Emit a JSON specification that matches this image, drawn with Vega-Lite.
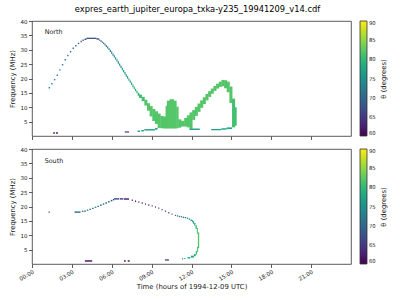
{
  "$schema": "https://vega.github.io/schema/vega-lite/v6.json",
  "padding": {"left": 7, "top": 5, "right": 0, "bottom": 0},
  "bounds": "flush",
  "spacing": 13,
  "title": {"text": "expres_earth_jupiter_europa_txka-y235_19941209_v14.cdf", "fontSize": 8.3, "fontWeight": "normal", "font": "DejaVu Sans", "color": "#000", "offset": 5, "anchor": "middle"},
  "datasets": {
    "north": [
      {"t":1.60,"t2":1.72,"f":0.8,"f2":1.3,"th":61},
      {"t":1.80,"t2":1.95,"f":0.8,"f2":1.3,"th":61},
      {"t":6.98,"t2":7.30,"f":1.2,"f2":1.6,"th":64},
      {"t":1.25,"t2":1.35,"f":16.55,"f2":17.05,"th":73},
      {"t":1.45,"t2":1.55,"f":17.95,"f2":18.45,"th":73},
      {"t":1.65,"t2":1.75,"f":19.35,"f2":19.85,"th":73},
      {"t":1.85,"t2":1.95,"f":20.85,"f2":21.35,"th":72},
      {"t":2.05,"t2":2.15,"f":22.75,"f2":23.25,"th":72},
      {"t":2.25,"t2":2.35,"f":24.55,"f2":25.05,"th":72},
      {"t":2.45,"t2":2.55,"f":26.25,"f2":26.75,"th":71},
      {"t":2.65,"t2":2.75,"f":27.75,"f2":28.25,"th":71},
      {"t":2.85,"t2":2.95,"f":29.05,"f2":29.55,"th":70},
      {"t":3.05,"t2":3.15,"f":30.25,"f2":30.75,"th":70},
      {"t":3.25,"t2":3.35,"f":31.15,"f2":31.65,"th":69},
      {"t":3.45,"t2":3.55,"f":31.95,"f2":32.45,"th":69},
      {"t":3.65,"t2":3.75,"f":32.65,"f2":33.15,"th":68},
      {"t":3.8,"t2":3.9,"f":33.05,"f2":33.55,"th":68},
      {"t":3.95,"t2":4.1,"f":33.4,"f2":33.9,"th":67},
      {"t":4.1,"t2":4.85,"f":33.75,"f2":34.2,"th":67},
      {"t":4.85,"t2":5.05,"f":33.5,"f2":34.0,"th":68},
      {"t":5.05,"t2":5.14,"f":33.1,"f2":33.6,"th":69},
      {"t":5.15,"t2":5.24,"f":32.8,"f2":33.3,"th":69},
      {"t":5.25,"t2":5.34,"f":32.4,"f2":32.9,"th":70},
      {"t":5.35,"t2":5.44,"f":32.0,"f2":32.5,"th":70},
      {"t":5.45,"t2":5.54,"f":31.5,"f2":32.1,"th":71},
      {"t":5.55,"t2":5.64,"f":31.0,"f2":31.6,"th":71},
      {"t":5.65,"t2":5.74,"f":30.45,"f2":31.1,"th":72},
      {"t":5.75,"t2":5.84,"f":29.9,"f2":30.55,"th":72},
      {"t":5.85,"t2":5.94,"f":29.25,"f2":30.0,"th":73},
      {"t":5.95,"t2":6.04,"f":28.6,"f2":29.35,"th":73},
      {"t":6.05,"t2":6.14,"f":27.95,"f2":28.7,"th":74},
      {"t":6.15,"t2":6.24,"f":27.3,"f2":28.05,"th":74},
      {"t":6.25,"t2":6.34,"f":26.6,"f2":27.4,"th":74},
      {"t":6.35,"t2":6.44,"f":25.9,"f2":26.7,"th":75},
      {"t":6.45,"t2":6.54,"f":25.15,"f2":26.0,"th":75},
      {"t":6.55,"t2":6.64,"f":24.4,"f2":25.25,"th":75},
      {"t":6.65,"t2":6.74,"f":23.65,"f2":24.5,"th":75},
      {"t":6.75,"t2":6.84,"f":22.9,"f2":23.75,"th":76},
      {"t":6.85,"t2":6.94,"f":22.15,"f2":23.0,"th":76},
      {"t":6.95,"t2":7.04,"f":21.4,"f2":22.25,"th":76},
      {"t":7.05,"t2":7.14,"f":20.65,"f2":21.5,"th":76},
      {"t":7.15,"t2":7.24,"f":19.9,"f2":20.75,"th":77},
      {"t":7.25,"t2":7.34,"f":19.2,"f2":20.0,"th":77},
      {"t":7.35,"t2":7.44,"f":18.5,"f2":19.3,"th":77},
      {"t":7.45,"t2":7.54,"f":17.75,"f2":18.6,"th":78},
      {"t":7.55,"t2":7.64,"f":17.0,"f2":17.85,"th":78},
      {"t":7.65,"t2":7.74,"f":16.3,"f2":17.1,"th":79},
      {"t":7.75,"t2":7.84,"f":15.6,"f2":16.4,"th":79},
      {"t":7.85,"t2":7.95,"f":14.9,"f2":15.7,"th":80},
      {"t":7.95,"t2":8.08,"f":14.0,"f2":15.0,"th":80},
      {"t":8.05,"t2":8.28,"f":13.2,"f2":14.4,"th":81},
      {"t":8.25,"t2":8.48,"f":12.1,"f2":13.6,"th":81},
      {"t":8.45,"t2":8.68,"f":10.6,"f2":12.6,"th":82},
      {"t":8.65,"t2":8.88,"f":8.8,"f2":11.4,"th":82},
      {"t":8.85,"t2":9.08,"f":6.8,"f2":10.4,"th":82},
      {"t":9.05,"t2":9.28,"f":5.2,"f2":9.4,"th":82},
      {"t":9.25,"t2":9.48,"f":4.2,"f2":8.6,"th":82},
      {"t":9.45,"t2":9.68,"f":2.8,"f2":7.8,"th":82},
      {"t":9.65,"t2":9.88,"f":2.7,"f2":7.0,"th":82},
      {"t":9.85,"t2":10.08,"f":2.6,"f2":6.8,"th":82},
      {"t":10.05,"t2":10.18,"f":2.6,"f2":10.5,"th":82},
      {"t":10.15,"t2":10.38,"f":2.6,"f2":12.3,"th":82},
      {"t":10.35,"t2":10.68,"f":2.6,"f2":12.8,"th":82},
      {"t":10.65,"t2":10.88,"f":2.6,"f2":12.3,"th":82},
      {"t":10.85,"t2":11.03,"f":2.7,"f2":10.2,"th":82},
      {"t":11.0,"t2":11.23,"f":2.9,"f2":5.8,"th":82},
      {"t":11.2,"t2":11.48,"f":3.3,"f2":5.3,"th":82},
      {"t":11.45,"t2":11.68,"f":3.3,"f2":6.3,"th":82},
      {"t":11.65,"t2":11.88,"f":3.0,"f2":7.2,"th":82},
      {"t":11.85,"t2":12.08,"f":2.5,"f2":8.2,"th":82},
      {"t":12.05,"t2":12.28,"f":5.6,"f2":9.0,"th":82},
      {"t":12.25,"t2":12.48,"f":7.0,"f2":10.1,"th":82},
      {"t":12.45,"t2":12.68,"f":8.4,"f2":11.3,"th":82},
      {"t":12.65,"t2":12.88,"f":9.8,"f2":12.4,"th":82},
      {"t":12.85,"t2":13.08,"f":11.1,"f2":13.5,"th":82},
      {"t":13.05,"t2":13.28,"f":12.4,"f2":14.6,"th":82},
      {"t":13.25,"t2":13.48,"f":13.6,"f2":15.6,"th":82},
      {"t":13.45,"t2":13.68,"f":14.7,"f2":16.5,"th":82},
      {"t":13.65,"t2":13.88,"f":15.7,"f2":17.4,"th":82},
      {"t":13.85,"t2":14.08,"f":16.5,"f2":18.2,"th":82},
      {"t":14.05,"t2":14.28,"f":17.1,"f2":18.9,"th":82},
      {"t":14.25,"t2":14.48,"f":17.3,"f2":19.5,"th":82},
      {"t":14.45,"t2":14.68,"f":16.6,"f2":19.4,"th":82},
      {"t":14.65,"t2":14.88,"f":15.2,"f2":18.9,"th":82},
      {"t":14.85,"t2":15.08,"f":11.5,"f2":17.2,"th":82},
      {"t":15.05,"t2":15.28,"f":3.0,"f2":13.0,"th":81},
      {"t":15.25,"t2":15.4,"f":3.6,"f2":10.0,"th":81},
      {"t":7.95,"t2":8.13,"f":1.4,"f2":1.9,"th":77},
      {"t":8.22,"t2":8.42,"f":1.6,"f2":2.1,"th":77},
      {"t":8.45,"t2":9.25,"f":1.9,"f2":2.4,"th":77},
      {"t":9.25,"t2":9.45,"f":2.2,"f2":2.8,"th":78},
      {"t":11.85,"t2":12.62,"f":2.1,"f2":2.6,"th":77},
      {"t":13.48,"t2":14.25,"f":2.0,"f2":2.45,"th":77},
      {"t":14.25,"t2":14.65,"f":2.2,"f2":2.7,"th":77},
      {"t":14.65,"t2":15.05,"f":2.4,"f2":3.0,"th":78}
    ],
    "south": [
      {"t":1.25,"t2":1.33,"f":17.8,"f2":18.3,"th":61},
      {"t":3.98,"t2":4.53,"f":0.8,"f2":1.3,"th":61},
      {"t":6.92,"t2":7.05,"f":0.8,"f2":1.3,"th":61},
      {"t":7.2,"t2":7.35,"f":0.8,"f2":1.3,"th":61},
      {"t":10.0,"t2":10.3,"f":1.2,"f2":1.6,"th":62},
      {"t":3.2,"t2":3.65,"f":17.8,"f2":18.3,"th":71},
      {"t":3.75,"t2":3.87,"f":18.1,"f2":18.55,"th":72},
      {"t":3.92,"t2":4.05,"f":18.2,"f2":18.65,"th":72},
      {"t":4.12,"t2":4.24,"f":18.5,"f2":18.95,"th":72},
      {"t":4.32,"t2":4.44,"f":18.8,"f2":19.25,"th":72},
      {"t":4.52,"t2":4.64,"f":19.1,"f2":19.55,"th":72},
      {"t":4.72,"t2":4.84,"f":19.5,"f2":19.95,"th":73},
      {"t":4.92,"t2":5.04,"f":19.8,"f2":20.3,"th":73},
      {"t":5.12,"t2":5.24,"f":20.2,"f2":20.7,"th":72},
      {"t":5.32,"t2":5.44,"f":20.6,"f2":21.1,"th":72},
      {"t":5.52,"t2":5.64,"f":21.0,"f2":21.5,"th":71},
      {"t":5.72,"t2":5.84,"f":21.4,"f2":21.9,"th":70},
      {"t":5.92,"t2":6.04,"f":21.8,"f2":22.3,"th":69},
      {"t":6.08,"t2":6.18,"f":22.1,"f2":22.6,"th":68},
      {"t":6.17,"t2":6.55,"f":22.4,"f2":22.9,"th":67},
      {"t":6.6,"t2":6.85,"f":22.4,"f2":22.9,"th":65},
      {"t":6.9,"t2":7.3,"f":22.35,"f2":22.85,"th":62},
      {"t":7.5,"t2":7.58,"f":21.95,"f2":22.4,"th":62},
      {"t":7.75,"t2":7.83,"f":21.6,"f2":22.05,"th":62},
      {"t":8.0,"t2":8.08,"f":21.3,"f2":21.75,"th":62},
      {"t":8.25,"t2":8.33,"f":21.0,"f2":21.45,"th":62},
      {"t":8.5,"t2":8.58,"f":20.6,"f2":21.05,"th":62},
      {"t":8.75,"t2":8.83,"f":20.3,"f2":20.75,"th":63},
      {"t":9.0,"t2":9.08,"f":20.0,"f2":20.45,"th":63},
      {"t":9.25,"t2":9.33,"f":19.6,"f2":20.05,"th":63},
      {"t":9.5,"t2":9.58,"f":19.2,"f2":19.65,"th":63},
      {"t":9.75,"t2":9.83,"f":18.7,"f2":19.15,"th":63},
      {"t":10.0,"t2":10.08,"f":18.2,"f2":18.65,"th":64},
      {"t":10.25,"t2":10.33,"f":17.6,"f2":18.05,"th":65},
      {"t":10.5,"t2":10.58,"f":17.1,"f2":17.55,"th":67},
      {"t":10.75,"t2":10.83,"f":16.7,"f2":17.15,"th":70},
      {"t":10.9,"t2":11.0,"f":16.5,"f2":16.95,"th":72},
      {"t":11.05,"t2":11.15,"f":16.3,"f2":16.75,"th":72},
      {"t":11.2,"t2":11.3,"f":16.2,"f2":16.65,"th":72},
      {"t":11.35,"t2":11.45,"f":16.0,"f2":16.45,"th":72},
      {"t":11.5,"t2":11.6,"f":15.9,"f2":16.35,"th":73},
      {"t":11.65,"t2":11.75,"f":15.7,"f2":16.15,"th":73},
      {"t":11.8,"t2":11.9,"f":15.4,"f2":15.85,"th":74},
      {"t":11.93,"t2":12.03,"f":15.0,"f2":15.5,"th":75},
      {"t":12.03,"t2":12.12,"f":14.6,"f2":15.2,"th":77},
      {"t":12.1,"t2":12.2,"f":14.0,"f2":14.9,"th":78},
      {"t":12.2,"t2":12.3,"f":13.3,"f2":14.3,"th":79},
      {"t":12.3,"t2":12.4,"f":12.2,"f2":13.5,"th":80},
      {"t":12.4,"t2":12.48,"f":10.5,"f2":12.5,"th":81},
      {"t":12.48,"t2":12.58,"f":5.5,"f2":11.0,"th":82},
      {"t":12.42,"t2":12.5,"f":4.2,"f2":6.0,"th":81},
      {"t":12.32,"t2":12.42,"f":3.3,"f2":4.5,"th":80},
      {"t":12.18,"t2":12.32,"f":2.7,"f2":3.5,"th":79},
      {"t":11.95,"t2":12.18,"f":2.2,"f2":2.9,"th":78},
      {"t":11.7,"t2":11.9,"f":1.9,"f2":2.4,"th":77},
      {"t":11.45,"t2":11.55,"f":1.7,"f2":2.1,"th":77},
      {"t":11.28,"t2":11.38,"f":1.6,"f2":2.0,"th":77}
    ]
  },
  "resolve": {"scale": {"color": "independent"}, "legend": {"color": "independent"}},
  "vconcat": [
    {
      "width": 319,
      "height": 115,
      "encoding": {
        "x": {"field": "t", "type": "quantitative", "scale": {"domain": [0, 24], "nice": false, "zero": false}, "axis": {"values": [0, 3, 6, 9, 12, 15, 18, 21], "labels": false, "title": null}},
        "y": {"field": "f", "type": "quantitative", "scale": {"domain": [0, 40], "nice": false, "zero": false}, "axis": {"values": [5, 10, 15, 20, 25, 30, 35, 40], "tickCount": 8, "title": "Frequency (MHz)", "labelOverlap": false}}
      },
      "layer": [
        {
          "data": {"name": "north"},
          "mark": {"type": "rect"},
          "encoding": {
            "x2": {"field": "t2"},
            "y2": {"field": "f2"},
            "color": {"field": "th", "type": "quantitative", "scale": {"scheme": "viridis", "domain": [60, 90]}, "legend": {"title": "θ (degrees)", "values": [60, 65, 70, 75, 80, 85, 90], "labelOverlap": false, "encode": {"title": {"update": {"angle": {"value": -90}, "baseline": {"value": "top"}}}}}}
          }
        },
        {
          "data": {"values": [{"t": 0.95, "f": 36.3, "label": "North"}]},
          "mark": {"type": "text", "align": "left", "baseline": "middle", "fontSize": 6.4, "font": "DejaVu Sans", "color": "#222"},
          "encoding": {"text": {"field": "label"}}
        }
      ]
    },
    {
      "width": 319,
      "height": 115,
      "encoding": {
        "x": {"field": "t", "type": "quantitative", "scale": {"domain": [0, 24], "nice": false, "zero": false}, "axis": {"values": [0, 3, 6, 9, 12, 15, 18, 21], "labelExpr": "(datum.value < 10 ? '0' : '') + datum.value + ':00'", "labelAngle": -30, "labelAlign": "right", "labelBaseline": "top", "labelOverlap": false, "title": "Time (hours of 1994-12-09 UTC)", "titlePadding": 2}},
        "y": {"field": "f", "type": "quantitative", "scale": {"domain": [0, 40], "nice": false, "zero": false}, "axis": {"values": [5, 10, 15, 20, 25, 30, 35, 40], "tickCount": 8, "title": "Frequency (MHz)", "labelOverlap": false}}
      },
      "layer": [
        {
          "data": {"name": "south"},
          "mark": {"type": "rect"},
          "encoding": {
            "x2": {"field": "t2"},
            "y2": {"field": "f2"},
            "color": {"field": "th", "type": "quantitative", "scale": {"scheme": "viridis", "domain": [60, 90]}, "legend": {"title": "θ (degrees)", "values": [60, 65, 70, 75, 80, 85, 90], "labelOverlap": false, "encode": {"title": {"update": {"angle": {"value": -90}, "baseline": {"value": "top"}}}}}}
          }
        },
        {
          "data": {"values": [{"t": 0.95, "f": 36.0, "label": "South"}]},
          "mark": {"type": "text", "align": "left", "baseline": "middle", "fontSize": 6.4, "font": "DejaVu Sans", "color": "#222"},
          "encoding": {"text": {"field": "label"}}
        }
      ]
    }
  ],
  "config": {
    "font": "DejaVu Sans",
    "view": {"stroke": "#333", "strokeWidth": 0.8},
    "axis": {"domain": false, "grid": false, "tickColor": "#333", "tickSize": 3.5, "tickWidth": 0.8, "labelFontSize": 5.5, "labelColor": "#222", "labelPadding": 1.5, "labelOverlap": false, "titleFontSize": 6.9, "titleFontWeight": "normal", "titleColor": "#222", "labelFont": "DejaVu Sans", "titleFont": "DejaVu Sans"},
    "axisY": {"titlePadding": 5},
    "legend": {"orient": "right", "offset": 9, "direction": "vertical", "padding": 0, "gradientLength": 115, "gradientThickness": 7, "gradientStrokeColor": "#333", "gradientStrokeWidth": 0.8, "labelFontSize": 5.3, "labelOffset": 4.5, "labelOverlap": false, "labelColor": "#222", "titleOrient": "right", "titleAnchor": "middle", "titleFontSize": 6.9, "titleFontWeight": "normal", "titleColor": "#222", "titlePadding": 5}
  }
}
